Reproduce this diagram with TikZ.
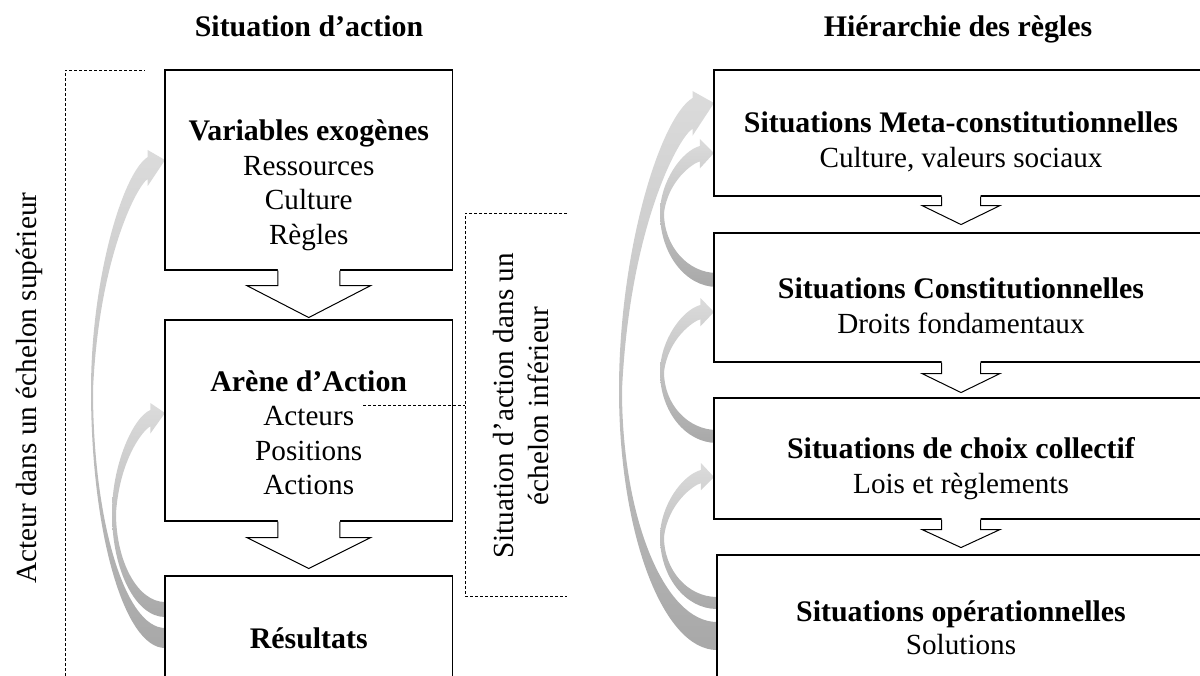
\documentclass[tikz,border=0pt]{standalone}
\usepackage{fontspec}
\setmainfont{Liberation Serif}
\tikzset{
  boxnode/.style={draw=black, line width=1.1bp, fill=white, rectangle, inner sep=0pt},
  txt/.style={anchor=base, inner sep=0pt, font=\fontsize{29.3}{35}\selectfont},
  btxt/.style={anchor=base, inner sep=0pt, font=\fontsize{30}{35}\selectfont\bfseries},
  chevline/.style={draw=black, line width=1bp, line join=miter},
  dashline/.style={draw=black, line width=0.9bp, dash pattern=on 3bp off 2bp},
  curvefill/.style={top color=gray!28, middle color=gray!34, bottom color=gray!68, draw=none}
}
% curved arrow: #1 tip x, #2 tail x, #3 tail top y, #4 tail bottom y,
% #5 outer leftmost x, #6 inner leftmost x, #7 leftmost y, #8 band top at head, #9 tip y
\newcommand\carrow[9]{%
  \pgfmathsetmacro\cbb{#8+1.1*(#4-#3)}%
  \pgfmathsetmacro\chb{#8-7}%
  \pgfmathsetmacro\chc{\cbb+7}%
  \pgfmathsetmacro\chx{#1-0.48*(\chc-\chb)}%
  \shade[curvefill] (#2,#4) .. controls ({#2-0.552*(#2-#5)},#4) and (#5,{#7+0.552*(#4-#7)}) .. (#5,#7)
    .. controls (#5,{#7-0.47*(#7-#8)}) and ({\chx-0.45*(\chx-#5)},{#8+0.07*(#7-#8)}) .. (\chx,#8)
    -- (\chx,\chb) -- (#1,#9) -- (\chx,\chc) -- (\chx,\cbb)
    .. controls ({\chx-0.19*(\chx-#6)},{\cbb+0.03*(#7-\cbb)}) and ({#6+0.11*(\chx-#6)},{\cbb+0.37*(#7-\cbb)}) .. (#6,#7)
    .. controls (#6,{#7+0.552*(#3-#7)}) and ({#2-0.552*(#2-#6)},#3) .. (#2,#3) -- cycle;
}
% chevron arrow below node #1
\newcommand\chev[5]{%
  \begin{scope}[shift={(#1.south)}]
    \fill[white] (-#2,-1.5) -- (-#2,#3) -- (-#4,#3) -- (0,#5) -- (#4,#3) -- (#2,#3) -- (#2,-1.5) -- cycle;
    \draw[chevline] (-#2,0) -- (-#2,#3) -- (-#4,#3) -- (0,#5) -- (#4,#3) -- (#2,#3) -- (#2,0);
  \end{scope}
}
\begin{document}
\begin{tikzpicture}[x=1bp,y=-1bp]
\useasboundingbox (0,0) rectangle (1200,676);

% curved arrows (left)
\carrow{165}{165}{628}{648}{91}{93}{390}{157}{160}
\carrow{165}{165}{602}{617}{112}{116}{513}{410}{413}
% curved arrows (right)
\carrow{714}{717}{622}{650}{619}{622}{390}{98}{103}
\carrow{714}{717}{273}{287}{660}{664}{213}{146}{153}
\carrow{714}{717}{430}{443}{660}{664}{372}{305}{312}
\carrow{714}{717}{597}{609}{660}{664}{537}{470}{477}

% left boxes
\node[boxnode, minimum width=287.5bp, minimum height=200bp] (var) at (308.75,170) {};
\node[boxnode, minimum width=287.5bp, minimum height=201bp] (arena) at (308.75,420.5) {};
\node[boxnode, minimum width=287.5bp, minimum height=114bp] (res) at (308.75,633) {};
% right boxes
\node[boxnode, minimum width=494bp, minimum height=126bp] (meta) at (961,133) {};
\node[boxnode, minimum width=494bp, minimum height=129bp] (const) at (961,297.5) {};
\node[boxnode, minimum width=494bp, minimum height=121bp] (coll) at (961,458.5) {};
\node[boxnode, minimum width=491bp, minimum height=135bp] (oper) at (962.5,622.5) {};

% chevrons
\chev{var}{31}{15}{62}{47}
\chev{arena}{31}{16}{62}{47}
\chev{meta}{19.5}{9}{39}{28}
\chev{const}{19.5}{11}{39}{30}
\chev{coll}{19.5}{10}{39}{28}

% titles
\node[btxt] (title1) at (309,37) {Situation d’action};
\node[btxt] (title2) at (958,37) {Hiérarchie des règles};

% left box texts
\node[btxt] (v0) at (308.75,141) {Variables exogènes};
\node[txt] (v1) at (308.75,176) {Ressources};
\node[txt] (v2) at (308.75,210) {Culture};
\node[txt] (v3) at (308.75,244) {Règles};
\node[btxt] (a0) at (308.75,391) {Arène d’Action};
\node[txt] (a1) at (308.75,425) {Acteurs};
\node[txt] (a2) at (308.75,460) {Positions};
\node[txt] (a3) at (308.75,494) {Actions};
\node[btxt] (r0) at (308.75,648) {Résultats};

% right box texts
\node[btxt] (m0) at (961,133) {Situations Meta-constitutionnelles};
\node[txt] (m1) at (961,168) {Culture, valeurs sociaux};
\node[btxt] (c0) at (961,298) {Situations Constitutionnelles};
\node[txt] (c1) at (961,333) {Droits fondamentaux};
\node[btxt] (k0) at (961,458) {Situations de choix collectif};
\node[txt] (k1) at (961,493) {Lois et règlements};
\node[btxt] (o0) at (961,621) {Situations opérationnelles};
\node[txt] (o1) at (961,654) {Solutions};

% dashed brackets
\coordinate (lb1) at (65,676);
\coordinate (lb2) at (65,70);
\coordinate (lb3) at (145,70);
\draw[dashline] (lb1) -- (lb2) -- (lb3);
\coordinate (rb1) at (567,213);
\coordinate (rb2) at (465,213);
\coordinate (rb3) at (465,596);
\coordinate (rb4) at (567,596);
\coordinate (rb5) at (363,405);
\coordinate (rb6) at (465,405);
\draw[dashline] (rb1) -- (rb2) -- (rb3) -- (rb4);
\draw[dashline] (rb5) -- (rb6);

% rotated labels
\node[txt, rotate=90] (lab1) at (36,388) {Acteur dans un échelon supérieur};
\node[txt, rotate=90] (lab2) at (513,406) {Situation d’action dans un};
\node[txt, rotate=90] (lab3) at (548,406) {échelon inférieur};
\end{tikzpicture}
\end{document}
